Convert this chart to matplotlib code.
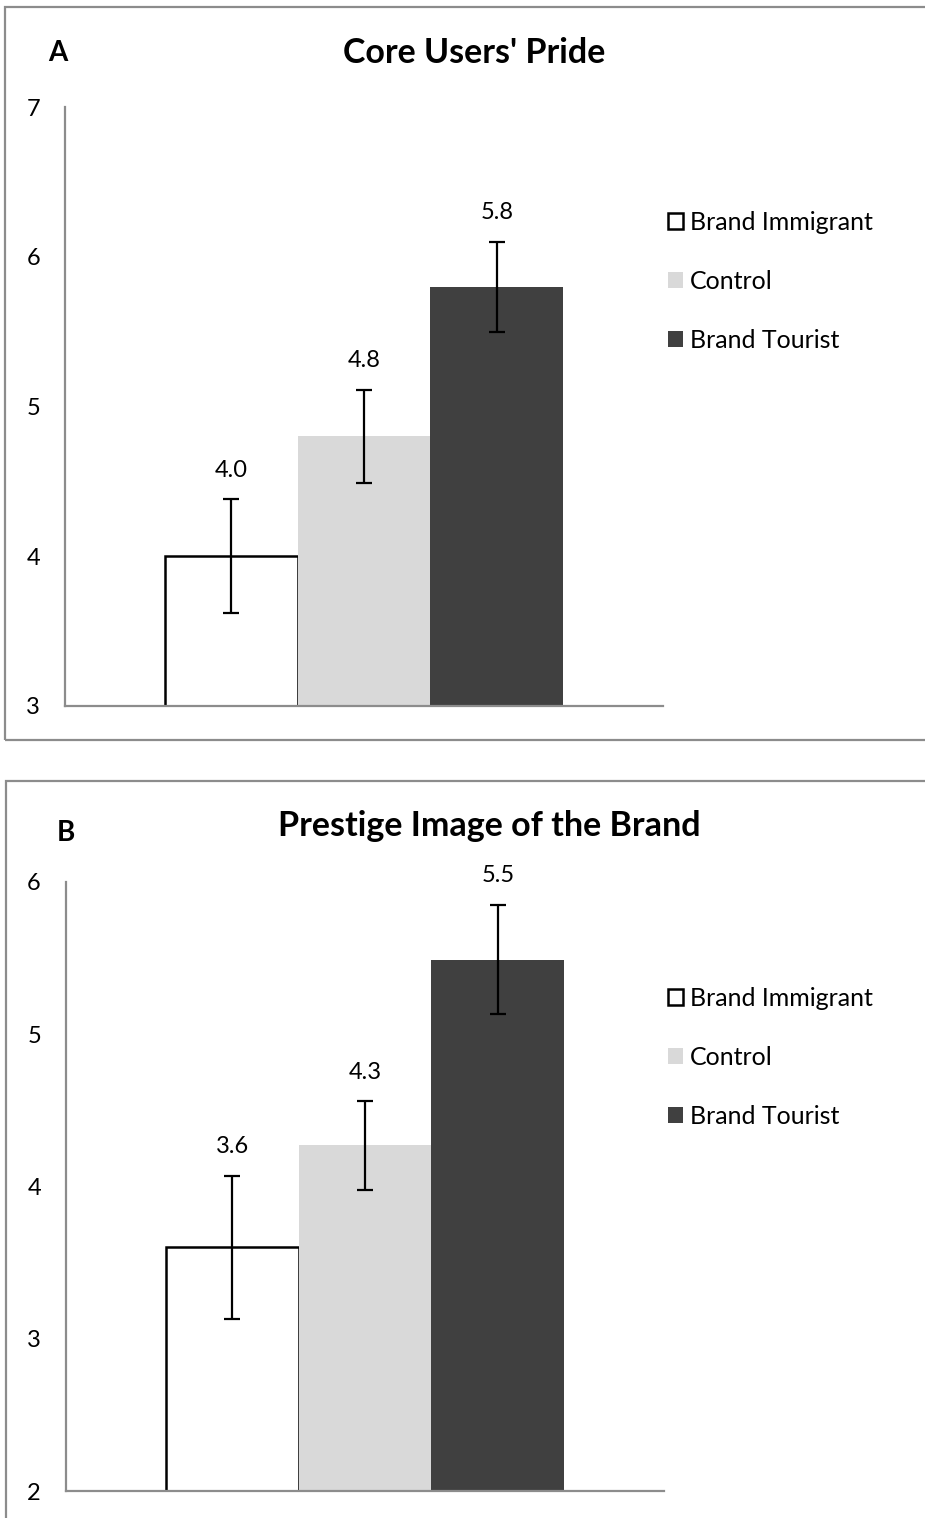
import matplotlib
matplotlib.use("Agg")
import matplotlib.pyplot as plt
from matplotlib.patches import Rectangle, Patch

plt.rcParams['font.family'] = ['Lato', 'DejaVu Sans']

groups = ["Brand Immigrant", "Control", "Brand Tourist"]
colors = ["#ffffff", "#d9d9d9", "#404040"]

pride_means = [4.0, 4.8, 5.8]
pride_err = [0.38, 0.31, 0.30]

prestige_means = [3.60, 4.27, 5.49]
prestige_err = [0.47, 0.29, 0.36]

W, H = 925, 1518
fig = plt.figure(figsize=(W / 100, H / 100), dpi=100)


def px_box(left, top, right, bottom):
    # pixel box -> figure fraction rect
    return [left / W, 1 - bottom / H, (right - left) / W, (bottom - top) / H]


def panel(rect, means, errs, ylim, title, title_xy, letter, letter_xy, legend_y):
    ax = fig.add_axes(rect)
    for i, (m, e) in enumerate(zip(means, errs)):
        ec = "black" if i == 0 else colors[i]
        lw = 1.8 if i == 0 else 0
        ax.bar(i, m - ylim[0], bottom=ylim[0], width=1.0, color=colors[i],
               edgecolor=ec, linewidth=lw, zorder=2)
        ax.errorbar(i, m, yerr=e, color="black", capsize=6, capthick=1.6,
                    elinewidth=1.6, zorder=3)
        ax.annotate(f"{m:.1f}", (i, m + e), xytext=(0, 21),
                    textcoords="offset points", ha="center", va="center",
                    fontsize=17)
    ax.set_xlim(-1.25, 3.25)
    ax.set_ylim(*ylim)
    ax.set_yticks(range(ylim[0], ylim[1] + 1))
    ax.set_xticks([])
    ax.tick_params(axis="y", length=0, pad=18, labelsize=17)
    for s in ["top", "right"]:
        ax.spines[s].set_visible(False)
    for s in ["left", "bottom"]:
        ax.spines[s].set_color("#8c8c8c")
        ax.spines[s].set_linewidth(1.6)
        ax.spines[s].set_zorder(4)
    fig.text(title_xy[0] / W, 1 - title_xy[1] / H, title, ha="center",
             va="center", fontsize=24.5, fontweight="bold")
    fig.text(letter_xy[0] / W, 1 - letter_xy[1] / H, letter, ha="center",
             va="center", fontsize=20, fontweight="bold")
    handles = [Patch(facecolor=c, edgecolor="black" if i == 0 else c,
                     linewidth=1.8 if i == 0 else 0)
               for i, c in enumerate(colors)]
    ax.legend(handles, groups, loc="upper left",
              bbox_to_anchor=(668 / W, 1 - legend_y / H),
              bbox_transform=fig.transFigure, frameon=False, fontsize=18,
              handlelength=0.58, handleheight=0.58, handletextpad=0.3,
              labelspacing=1.44, borderpad=0, borderaxespad=0)
    return ax


# outer frames around each panel
fig.add_artist(Rectangle((5 / W, 1 - 740 / H), 1, 733 / H, transform=fig.transFigure,
                         fill=False, edgecolor="#8c8c8c", linewidth=1.6))
fig.add_artist(Rectangle((6 / W, -0.1), 1, 0.1 + (1518 - 781) / H, transform=fig.transFigure,
                         fill=False, edgecolor="#8c8c8c", linewidth=1.6))

panel(px_box(65, 107, 663, 706), pride_means, pride_err, (3, 7),
      "Core Users' Pride", (474, 53), "A", (58, 53), 211)
panel(px_box(66, 882, 664, 1491), prestige_means, prestige_err, (2, 6),
      "Prestige Image of the Brand", (489, 826), "B", (66, 833), 987)

fig.savefig("out.png", dpi=100)
